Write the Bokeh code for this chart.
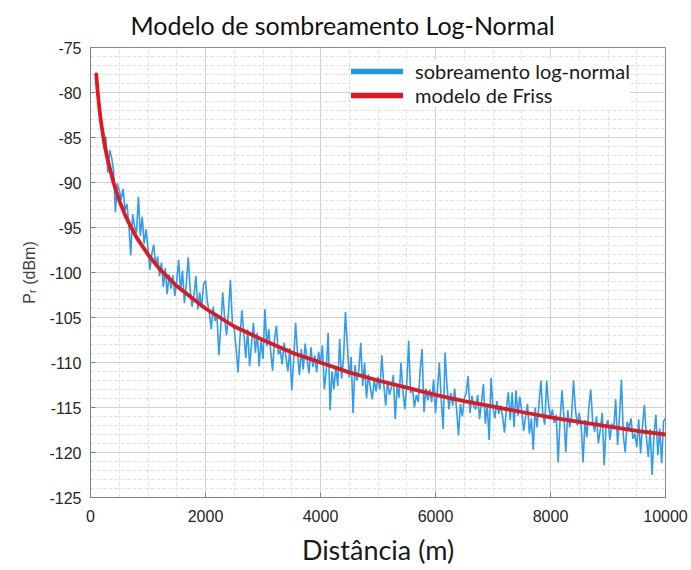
import numpy as np
from bokeh.plotting import figure
from bokeh.models import FixedTicker, Legend, LegendItem, Range1d, ColumnDataSource
from bokeh.embed import file_html
from bokeh.resources import INLINE

# ---- data ----
title_text = "Modelo de sombreamento Log-Normal"
x_label = "Distância (m)"
y_label = "Pᵣ (dBm)"
series_names = ["sobreamento log-normal", "modelo de Friss"]

x_ticks = [0, 2000, 4000, 6000, 8000, 10000]
x_tick_labels = ["0", "2000", "4000", "6000", "8000", "10000"]
y_ticks = [-125, -120, -115, -110, -105, -100, -95, -90, -85, -80, -75]
y_tick_labels = ["-125", "-120", "-115", "-110", "-105", "-100", "-95", "-90", "-85", "-80", "-75"]

# Friis model curve (distance m, received power dBm)
friis_d = [100, 125, 150, 175, 200, 250, 300, 400, 500, 600, 700, 800, 1000, 1200,
           1500, 2000, 2500, 3000, 3500, 4000, 4500, 5000, 5500, 6000, 6500,
           7000, 7500, 8000, 8500, 9000, 9500, 10000]
friis_pr = [-78.0, -79.9, -81.5, -82.9, -84.0, -86.0, -87.5, -90.0, -92.0, -93.6, -94.9,
            -96.1, -98.0, -99.6, -101.5, -104.0, -106.0, -107.5, -108.9, -110.0, -111.1,
            -112.0, -112.8, -113.6, -114.3, -114.9, -115.5, -116.1, -116.6, -117.1,
            -117.6, -118.0]

# log-normal shadowing samples, evenly spaced from 100 m to 10000 m
shadow_pr = [
    -78.0, -80.3, -82.6, -84.5, -85.8, -84.9, -88.9, -86.4, -87.2, -88.6, -93.3, -90.1, -90.8, -91.9, -90.7,
    -93.1, -92.4, -94.6, -98.1, -93.5, -94.9, -95.6, -91.6, -95.9, -93.8, -96.8, -95.2, -97.4, -99.7, -97.9,
    -96.9, -99.3, -98.2, -100.4, -98.9, -101.6, -99.5, -102.4, -100.2, -101.8, -100.3, -102.6, -100.9, -98.6, -102.1,
    -99.8, -103.4, -101.2, -98.3, -101.9, -103.8, -102.5, -100.4, -104.1, -102.2, -103.9, -101.3, -100.9, -103.3, -104.5,
    -106.3, -103.8, -105.4, -104.8, -109.2, -105.9, -102.2, -105.1, -107.0, -104.4, -100.8, -105.6, -106.3, -108.5, -111.1,
    -107.2, -104.2, -106.8, -109.5, -106.3, -110.4, -108.0, -105.6, -108.9, -106.7, -110.4, -107.5, -109.6, -104.1, -108.2,
    -106.3, -108.7, -110.9, -107.4, -105.9, -109.1, -108.6, -110.2, -107.8, -109.4, -111.0, -108.4, -113.1, -109.7, -105.6,
    -108.9, -111.4, -108.5, -110.8, -107.9, -109.6, -111.2, -108.3, -110.5, -109.2, -111.1, -108.8, -110.2, -108.1, -113.0,
    -110.9, -106.7, -115.3, -111.0, -113.0, -110.4, -112.6, -107.4, -111.8, -109.6, -104.4, -108.0, -111.7, -109.4, -115.6,
    -110.3, -112.0, -110.9, -107.8, -112.6, -110.0, -114.0, -111.3, -112.8, -114.1, -111.9, -113.2, -111.6, -113.0, -109.2,
    -112.4, -114.8, -112.1, -113.6, -112.8, -111.4, -116.3, -112.5, -113.9, -110.0, -113.2, -115.2, -112.4, -107.6, -113.4,
    -112.8, -115.0, -113.6, -114.4, -110.9, -108.5, -115.5, -112.9, -114.2, -113.0, -114.4, -111.9, -115.6, -113.1, -110.0,
    -114.2, -117.4, -108.9, -112.6, -115.2, -113.4, -114.8, -112.9, -115.2, -118.1, -114.6, -116.0, -114.0, -113.4, -111.5,
    -115.6, -113.7, -114.9, -115.2, -113.6, -116.3, -114.4, -112.4, -116.8, -114.7, -118.6, -111.7, -115.0, -116.2, -114.3,
    -115.7, -114.8, -116.0, -117.8, -115.1, -113.3, -116.4, -113.3, -117.2, -113.1, -115.9, -113.8, -115.4, -117.6, -116.0,
    -114.6, -117.9, -116.2, -119.7, -115.0, -117.2, -114.6, -112.0, -115.8, -116.9, -112.0, -114.7, -116.2, -115.2, -116.7,
    -115.8, -121.1, -116.4, -113.1, -116.0, -120.0, -115.3, -117.2, -116.0, -112.0, -115.2, -117.0, -115.6, -117.1, -121.1,
    -116.4, -118.3, -115.0, -113.0, -116.6, -117.7, -116.0, -119.0, -117.4, -115.6, -121.4, -117.0, -116.4, -118.6, -116.8,
    -117.4, -114.1, -119.2, -116.0, -111.9, -118.1, -120.0, -116.6, -117.3, -116.2, -118.5, -117.9, -119.4, -116.3, -120.1,
    -117.0, -114.7, -118.2, -120.5, -117.4, -122.5, -118.0, -115.8, -120.3, -117.3, -121.2, -116.5, -116.2,
]
shadow_d = np.linspace(100, 10000, len(shadow_pr))

# ---- styling ----
BLUE = "#2f9ced"
BLUE_LEG = "#1f9ae0"
RED = "#e0191f"

p = figure(width=690, height=568,
           x_range=Range1d(0, 10000), y_range=Range1d(-125, -75),
           output_backend="svg", toolbar_location=None,
           min_border_left=90, min_border_right=25,
           min_border_top=45, min_border_bottom=68,
           background_fill_color="white", border_fill_color="white")

p.title.text = title_text
p.title.text_font = "Lato"
p.title.text_font_size = "25px"
p.title.text_font_style = "normal"
p.title.text_color = "#111111"
p.title.align = "left"
p.title.offset = 40
p.title.standoff = 15

src_shadow = ColumnDataSource(dict(d=shadow_d, pr=shadow_pr))
src_friis = ColumnDataSource(dict(d=friis_d, pr=friis_pr))
p.line("d", "pr", source=src_shadow, line_color=BLUE, line_width=1.6)
p.line("d", "pr", source=src_friis, line_color=RED, line_width=3.8, line_cap="round", line_join="round")

# legend proxies (thicker lines like the reference legend); NaN data draws nothing in the plot
leg_blue = p.line(x=[np.nan, np.nan], y=[np.nan, np.nan], line_color=BLUE_LEG, line_width=5.5, line_cap="round")
leg_red = p.line(x=[np.nan, np.nan], y=[np.nan, np.nan], line_color=RED, line_width=5.5, line_cap="round")

legend = Legend(items=[LegendItem(label=series_names[0], renderers=[leg_blue]),
                       LegendItem(label=series_names[1], renderers=[leg_red])],
                location=(261, 390), border_line_color=None,
                background_fill_color="white", background_fill_alpha=1.0,
                label_text_font="Lato", label_text_font_size="20px",
                label_text_color="#1a1a1a",
                glyph_width=52, glyph_height=20, label_height=20,
                label_standoff=12, spacing=0, padding=10, margin=0)
p.add_layout(legend)

# ticks
p.xaxis.ticker = FixedTicker(ticks=x_ticks, minor_ticks=list(range(0, 10001, 500)))
p.yaxis.ticker = FixedTicker(ticks=y_ticks, minor_ticks=list(range(-125, -74, 1)))
p.xaxis.major_label_overrides = {t: l for t, l in zip(x_ticks, x_tick_labels)}
p.yaxis.major_label_overrides = {t: l for t, l in zip(y_ticks, y_tick_labels)}

for ax in (p.xaxis[0], p.yaxis[0]):
    ax.axis_line_color = "#808080"
    ax.major_tick_line_color = "#808080"
    ax.major_tick_in = 5
    ax.major_tick_out = 0
    ax.minor_tick_line_color = None
    ax.major_label_text_font = "Liberation Sans"
    ax.major_label_text_font_size = "16px"
    ax.major_label_text_color = "#262626"

p.xaxis.major_label_standoff = 8
p.yaxis.major_label_standoff = 5

p.xaxis.axis_label = x_label
p.xaxis.axis_label_text_font = "Lato"
p.xaxis.axis_label_text_font_size = "27px"
p.xaxis.axis_label_text_font_style = "normal"
p.xaxis.axis_label_text_color = "#1a1a1a"
p.xaxis.axis_label_standoff = 8

p.yaxis.axis_label = y_label
p.yaxis.axis_label_text_font = "Liberation Sans"
p.yaxis.axis_label_text_font_size = "16px"
p.yaxis.axis_label_text_font_style = "normal"
p.yaxis.axis_label_text_color = "#404040"
p.yaxis.axis_label_standoff = 8

# grid
for g in (p.xgrid[0], p.ygrid[0]):
    g.grid_line_color = "#d0d0d0"
    g.grid_line_width = 1
    g.minor_grid_line_color = "#e2e2e2"
    g.minor_grid_line_dash = "4 2"
    g.minor_grid_line_width = 1

p.outline_line_color = "#8a8a8a"
p.outline_line_width = 1

open("out.html", "w").write(file_html(p, INLINE))
